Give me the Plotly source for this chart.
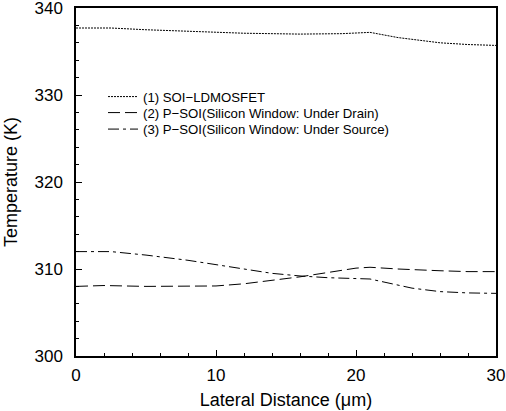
import plotly.graph_objects as go

x1 = [0, 2.5, 5, 8, 12, 16, 19, 21, 23, 26, 28, 30]
y1 = [337.7, 337.7, 337.5, 337.3, 337.1, 337.0, 337.05, 337.2, 336.6, 336.0, 335.8, 335.7]

x2 = [0, 2, 5, 8, 10, 12, 14, 16, 18, 20, 21, 23, 26, 28, 30]
y2 = [308.0, 308.1, 308.0, 308.0, 308.05, 308.3, 308.7, 309.1, 309.6, 310.1, 310.2, 310.0, 309.8, 309.7, 309.7]

x3 = [0, 2.5, 5, 8, 10, 12, 14, 16, 18, 20, 21, 22, 24, 26, 28, 30]
y3 = [312.0, 312.0, 311.6, 311.0, 310.5, 310.0, 309.5, 309.2, 309.0, 308.9, 308.85, 308.5, 307.8, 307.4, 307.25, 307.2]

names = ["(1) SOI\u2212LDMOSFET",
         "(2) P\u2212SOI(Silicon Window: Under Drain)",
         "(3) P\u2212SOI(Silicon Window: Under Source)"]

FONT = "Liberation Sans, Arial, Helvetica, sans-serif"

fig = go.Figure()
fig.add_trace(go.Scatter(x=x1, y=y1, mode="lines", name=names[0], legend="legend",
                         line=dict(color="black", width=1, dash="2px,1px")))
fig.add_trace(go.Scatter(x=x2, y=y2, mode="lines", name=names[1], legend="legend2",
                         line=dict(color="black", width=1, dash="12px,5px")))
fig.add_trace(go.Scatter(x=x3, y=y3, mode="lines", name=names[2], legend="legend3",
                         line=dict(color="black", width=1, dash="11px,4px,3px,4px")))

L, R, T, B = 76, 10, 8, 55
W, H = 506, 411
pw, ph = W - L - R, H - T - B

def leg(cy):
    return dict(x=(103 - L) / pw, y=1 - (cy - T) / ph, xanchor="left", yanchor="middle",
                bgcolor="rgba(0,0,0,0)", font=dict(size=13.2, family=FONT),
                itemwidth=30, borderwidth=0)

fig.update_layout(
    width=W, height=H,
    margin=dict(l=L, r=R, t=T, b=B, autoexpand=False),
    paper_bgcolor="white", plot_bgcolor="white",
    font=dict(family=FONT, color="black", size=17),
    showlegend=True,
    legend=leg(97), legend2=leg(113), legend3=leg(129.5),
)
fig.update_xaxes(range=[0, 30], tickvals=[0, 10, 20, 30], showgrid=False, zeroline=False,
                 showline=True, linecolor="black", linewidth=1.5, mirror=True,
                 ticks="inside", ticklen=6, tickwidth=1, tickcolor="black",
                 minor=dict(dtick=2, ticks="inside", ticklen=3, tickcolor="black"),
                 tickfont=dict(size=17), automargin=False, ticklabelstandoff=3,
                 ticklabeloverflow="allow",
                 title=dict(text="Lateral Distance (\u03bcm)", font=dict(size=18), standoff=9))
fig.update_yaxes(range=[300, 340], tickvals=[300, 310, 320, 330, 340], showgrid=False, zeroline=False,
                 showline=True, linecolor="black", linewidth=1.5, mirror=True,
                 ticks="inside", ticklen=6, tickwidth=1, tickcolor="black",
                 minor=dict(dtick=2, ticks="inside", ticklen=3, tickcolor="black"),
                 tickfont=dict(size=17), automargin=False, ticklabelstandoff=8,
                 ticklabeloverflow="allow",
                 title=dict(text="Temperature (K)", font=dict(size=18), standoff=12))

fig.write_html("out.html", config={"displayModeBar": False},
               post_script="document.body.style.margin='0';")
